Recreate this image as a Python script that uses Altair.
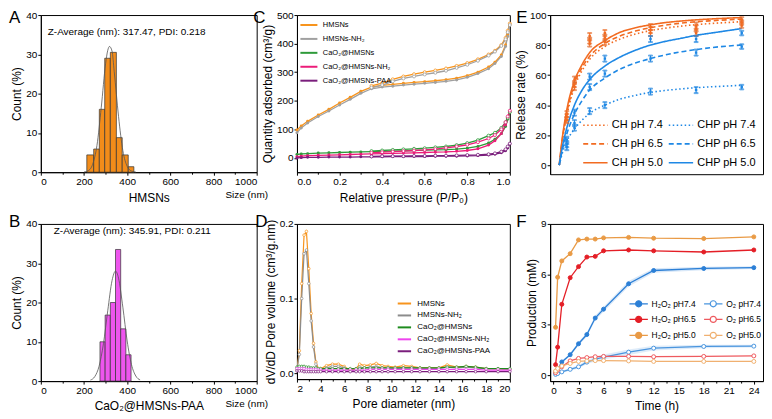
import altair as alt
import pandas as pd

FONT = "Liberation Sans"

# ---------------- Panel A : DLS of HMSNs ----------------
a_bin_lo = [213, 245, 271, 296, 322, 350, 377, 405]
a_bin_hi = [245, 271, 296, 322, 350, 377, 405, 431]
a_count = [4.4, 5.9, 16.0, 29.0, 30.5, 8.8, 4.4, 1.4]
a_fit_x = [200, 220, 240, 260, 280, 300, 310, 318, 330, 340, 360, 380, 400, 420, 440]
a_fit_y = [0.05, 0.4, 2.0, 6.8, 16.5, 27.6, 31.0, 32.0, 30.8, 25.6, 14.2, 5.5, 1.5, 0.3, 0.05]

# ---------------- Panel B : DLS of CaO2@HMSNs-PAA ----------------
b_bin_lo = [274, 298, 322, 346, 370, 394]
b_bin_hi = [298, 322, 346, 370, 394, 418]
b_count = [10.0, 16.8, 20.0, 33.5, 13.3, 6.7]
b_fit_x = [230, 250, 270, 290, 310, 330, 346, 360, 380, 400, 420, 440, 460]
b_fit_y = [0.27, 1.15, 3.8, 9.5, 17.9, 25.6, 28.0, 26.2, 18.8, 10.2, 4.2, 1.3, 0.3]

# ---------------- Panel C : N2 isotherms ----------------
c_series = ["HMSNs", "HMSNs-NH₂", "CaO₂@HMSNs", "CaO₂@HMSNs-NH₂", "CaO₂@HMSNs-PAA"]
c_colors = ["#F7941D", "#A0A0A0", "#2E9B3A", "#EC1C79", "#7A1E7C"]
c_p_ads = [0.0, 0.02, 0.05, 0.1, 0.15, 0.2, 0.25, 0.3, 0.35, 0.4, 0.45, 0.5, 0.55,
           0.6, 0.65, 0.7, 0.75, 0.8, 0.85, 0.9, 0.93, 0.96, 0.98, 0.99, 1.0]
c_p_des = [1.0, 0.99, 0.98, 0.96, 0.93, 0.9, 0.85, 0.8, 0.75, 0.7, 0.65, 0.6, 0.55,
           0.5, 0.45, 0.4, 0.35]
c_hmsns_ads = [98, 112, 128, 150, 170, 192, 212, 233, 248, 254, 257, 261, 264, 267, 270,
               274, 279, 288, 300, 318, 335, 360, 395, 430, 470]
c_hmsns_des = [470, 445, 420, 395, 375, 362, 345, 332, 322, 313, 306, 300, 293, 285, 275, 262, 252]
c_nh2_ads = [88, 105, 122, 145, 164, 185, 205, 226, 242, 248, 251, 255, 258, 261, 264,
             268, 273, 282, 295, 312, 330, 355, 390, 425, 465]
c_nh2_des = [465, 440, 415, 392, 372, 358, 340, 326, 315, 305, 298, 292, 285, 278, 268, 255, 246]
c_cao2_ads = [12, 14, 15, 17, 18, 19, 20, 21, 22, 23, 24, 25, 26, 27, 28, 29, 31, 34, 40,
              52, 65, 85, 110, 135, 160]
c_cao2_des = [160, 140, 125, 105, 88, 78, 62, 52, 45, 40, 37, 34, 32, 30, 28, 26, 24]
c_cnh2_ads = [4, 6, 8, 9, 10, 11, 12, 13, 14, 15, 16, 17, 18, 19, 20, 21, 23, 26, 32, 45,
              60, 85, 115, 140, 165]
c_cnh2_des = [165, 145, 125, 100, 80, 68, 55, 46, 40, 35, 31, 28, 26, 24, 22, 20, 18]
c_paa_ads = [0, 1, 2, 2, 3, 3, 3, 4, 4, 4, 5, 5, 5, 5, 6, 6, 6, 7, 8, 10, 13, 18, 25, 35, 50]
c_paa_des = [50, 40, 30, 22, 16, 13, 11, 10, 9, 8, 8, 7, 7, 6, 6, 6, 5]

# ---------------- Panel D : pore size distribution ----------------
d_series = c_series
d_colors = ["#F7941D", "#8C8C8C", "#1E8C1E", "#EE44EE", "#7A1E7C"]
d_x = [2.0, 2.2, 2.4, 2.6, 2.8, 3.0, 3.2, 3.4, 3.6, 3.8, 4.0, 4.5, 5.0, 5.5, 6.0, 6.5,
       7.0, 7.3, 7.7, 8.2, 8.7, 9.2, 9.7, 10.3, 11.0, 11.7, 12.4, 13.2, 14.0, 14.7,
       15.5, 16.3, 17.1, 18.0, 19.0, 20.0]
d_hmsns = [0.005, 0.03, 0.12, 0.185, 0.19, 0.14, 0.08, 0.04, 0.015, 0.006, 0.006, 0.01,
           0.012, 0.012, 0.009, 0.004, 0.006, 0.012, 0.01, 0.011, 0.013, 0.01, 0.009,
           0.008, 0.01, 0.009, 0.007, 0.007, 0.007, 0.011, 0.008, 0.009, 0.008, 0.006,
           0.006, 0.005]
d_nh2 = [0.005, 0.025, 0.1, 0.16, 0.165, 0.12, 0.07, 0.035, 0.012, 0.004, 0.004, 0.007,
         0.009, 0.009, 0.007, 0.003, 0.004, 0.008, 0.007, 0.008, 0.009, 0.007, 0.007,
         0.006, 0.007, 0.007, 0.006, 0.006, 0.006, 0.008, 0.007, 0.008, 0.007, 0.006,
         0.006, 0.005]
d_cao2 = [0.008, 0.009, 0.009, 0.009, 0.008, 0.008, 0.007, 0.007, 0.007, 0.006, 0.006,
          0.006, 0.006, 0.006, 0.006, 0.006, 0.006, 0.006, 0.007, 0.007, 0.007, 0.007,
          0.007, 0.007, 0.007, 0.007, 0.007, 0.007, 0.007, 0.008, 0.008, 0.009, 0.008,
          0.006, 0.006, 0.006]
d_cnh2 = [0.006, 0.006, 0.006, 0.006, 0.005, 0.005, 0.005, 0.005, 0.005, 0.004, 0.004,
          0.004, 0.004, 0.004, 0.004, 0.004, 0.004, 0.004, 0.004, 0.005, 0.005, 0.005,
          0.005, 0.005, 0.005, 0.005, 0.005, 0.005, 0.005, 0.005, 0.005, 0.005, 0.005,
          0.004, 0.004, 0.004]
d_paa = [0.003, 0.003, 0.003, 0.002, 0.002, 0.002, 0.002, 0.002, 0.002, 0.002, 0.002,
         0.002, 0.002, 0.002, 0.002, 0.002, 0.002, 0.002, 0.002, 0.002, 0.002, 0.002,
         0.002, 0.002, 0.002, 0.002, 0.002, 0.002, 0.002, 0.002, 0.002, 0.002, 0.002,
         0.002, 0.002, 0.002]

# ---------------- Panel E : release kinetics ----------------
# order is column-major for the 2-column legend
e_series = ["CH pH 7.4", "CH pH 6.5", "CH pH 5.0", "CHP pH 7.4", "CHP pH 6.5", "CHP pH 5.0"]
e_colors = ["#F26B21", "#F26B21", "#F26B21", "#1E88E5", "#1E88E5", "#1E88E5"]
e_dashes = [[1.5, 2.5], [5, 3], [1, 0], [1.5, 2.5], [5, 3], [1, 0]]
e_t_fit = [0, 2, 5, 10, 15, 20, 30, 40, 50, 60, 70, 80, 90, 100, 110, 120]
e_ch74_fit = [0, 16, 33, 52, 63, 70.5, 79, 84, 87.3, 89.6, 91.3, 92.6, 93.6, 94.4, 95, 95.6]
e_ch65_fit = [0, 17, 35, 54, 65, 72.5, 81, 86, 89.3, 91.6, 93.3, 94.6, 95.5, 96.2, 96.8, 97.3]
e_ch50_fit = [0, 18, 37, 56, 67, 75, 83, 88.5, 91.5, 93.5, 95, 96, 96.8, 97.4, 97.9, 98.3]
e_chp74_fit = [0, 8, 16, 24, 30, 34.5, 40, 44, 46.5, 48.5, 49.8, 50.8, 51.6, 52.2, 52.7, 53.2]
e_chp65_fit = [0, 10, 21, 34, 43, 50, 58, 64, 68, 71, 73.5, 75.5, 77, 78.3, 79.3, 80]
e_chp50_fit = [0, 12, 25, 40, 50, 57, 66, 72, 76.5, 80, 82.5, 84.5, 86.5, 88, 89.5, 91]
e_t_pts = [5, 10, 20, 30, 60, 90, 120]
e_ch74_pts = [30, 52, 81, 82, 88, 88, 93]
e_ch65_pts = [32, 54, 83, 85, 90, 91, 95]
e_ch50_pts = [34, 57, 86, 88, 92, 93, 97]
e_chp74_pts = [12, 25, 36, 40, 49, 50, 52]
e_chp65_pts = [14, 28, 52, 61, 71, 75, 79]
e_chp50_pts = [17, 35, 59, 71, 84, 84, 88]
e_err = [2, 2, 2, 2, 2, 2, 1.5]

# ---------------- Panel F : H2O2 / O2 production ----------------
f_series = ["H₂O₂ pH7.4", "H₂O₂ pH6.5", "H₂O₂ pH5.0", "O₂ pH7.4", "O₂ pH6.5", "O₂ pH5.0"]
f_line_colors = ["#2B7FD6", "#E41E26", "#E99A45", "#4A95DE", "#EE5A5F", "#F0B070"]
f_fills = ["#2B7FD6", "#E41E26", "#E99A45", "#FFFFFF", "#FFFFFF", "#FFFFFF"]
f_t = [0.25, 0.5, 1, 2, 3, 4, 5, 6, 9, 12, 18, 24]
f_h2o2_74 = [0.15, 0.35, 0.79, 1.22, 1.87, 2.42, 3.4, 3.93, 5.44, 6.23, 6.35, 6.4]
f_h2o2_65 = [0.63, 1.67, 4.22, 5.8, 6.46, 7.03, 7.07, 7.4, 7.45, 7.4, 7.33, 7.45]
f_h2o2_50 = [2.85, 5.83, 6.8, 7.23, 8.05, 8.1, 8.1, 8.17, 8.2, 8.15, 8.13, 8.23]
f_o2_74 = [0.05, 0.1, 0.2, 0.35, 0.5, 0.78, 0.95, 1.08, 1.37, 1.61, 1.71, 1.73]
f_o2_65 = [0.15, 0.3, 0.5, 0.85, 1.0, 1.05, 1.1, 1.12, 1.12, 1.1, 1.12, 1.15]
f_o2_50 = [0.25, 0.4, 0.55, 0.7, 0.82, 0.85, 0.87, 0.87, 0.85, 0.82, 0.82, 0.82]
f_band = [0.05, 0.05, 0.06, 0.08, 0.1, 0.12, 0.14, 0.15, 0.16, 0.14, 0.1, 0.08]


# ================= helpers =================
def sc(domain):
    return alt.Scale(domain=domain, nice=False, zero=False)


def xax(title, values, fmt="d", **kw):
    args = dict(title=title, values=values, orient="bottom", grid=False, titlePadding=6,
                tickCount=50, format=fmt)
    args.update(kw)
    return alt.Axis(**args)


def yax(title, values, fmt="d", **kw):
    args = dict(title=title, values=values, orient="left", grid=False, titlePadding=2,
                tickCount=50, format=fmt)
    args.update(kw)
    return alt.Axis(**args)


def minor_x(vals, domain):
    return alt.Chart(pd.DataFrame({"mx": vals})).mark_point(opacity=0).encode(
        x=alt.X("mx:Q", scale=sc(domain),
                axis=alt.Axis(values=vals, labels=False, domain=False, tickSize=2,
                              title=None, orient="bottom", grid=False, tickCount=50)))


def text_at(txt, x, y, size=10, align="left", anchor="alphabetic"):
    return alt.Chart(pd.DataFrame({"t": [txt]})).mark_text(
        font=FONT, fontSize=size, align=align, baseline=anchor, color="black"
    ).encode(text="t:N", x=alt.value(x), y=alt.value(y))


def leg(**kw):
    base = dict(title=None, orient="none", labelFont=FONT, labelColor="#000", rowPadding=0)
    base.update(kw)
    return alt.Legend(**base)


W_A, W_C, W_E = 217, 214, 214
LET = 17
TOP_Y = -4.5   # top of the panel letters in the upper row

# ================= Panel A / B =================
def dls_panel(lo, hi, cnt, fx, fy, color, xtitle, letter, letter_y, letter_base,
              zlabel, zx, zy):
    bars = pd.DataFrame({"lo": lo, "hi": hi, "cnt": cnt})
    fit = pd.DataFrame({"x": fx, "y": fy})
    dom = [0, 1000]
    bar = alt.Chart(bars).mark_rect(fill=color, stroke="#333333", strokeWidth=0.7).encode(
        x=alt.X("lo:Q", scale=sc(dom),
                axis=xax(xtitle, [0, 200, 400, 600, 800, 1000])),
        x2="hi:Q",
        y=alt.Y("cnt:Q", scale=sc([0, 40]), axis=yax("Count (%)", [0, 10, 20, 30, 40])),
        y2=alt.datum(0),
    )
    curve = alt.Chart(fit).mark_line(color="#555555", strokeWidth=0.8,
                                     interpolate="monotone").encode(
        x=alt.X("x:Q", scale=sc(dom), axis=None), y=alt.Y("y:Q", scale=sc([0, 40])))
    mnr = minor_x([100, 300, 500, 700, 900], dom)
    return alt.layer(
        bar, curve, mnr,
        text_at(zlabel, zx, zy, size=10),
        text_at("Size (nm)", 207, 184, size=10, align="center"),
        text_at(letter, -32, letter_y, size=LET, anchor=letter_base),
    ).resolve_axis(x="independent").properties(width=W_A, height=158)


panelA = dls_panel(a_bin_lo, a_bin_hi, a_count, a_fit_x, a_fit_y, "#F28C1A", "HMSNs",
                   "A", TOP_Y, "top", "Z-Average (nm): 317.47, PDI: 0.218", 7, 20)
panelB = dls_panel(b_bin_lo, b_bin_hi, b_count, b_fit_x, b_fit_y, "#EE55EE",
                   "CaO₂@HMSNs-PAA", "B", 3, "alphabetic",
                   "Z-Average (nm): 345.91, PDI: 0.211", 13, 10)

# ================= Panel C =================
c_ads_lists = [c_hmsns_ads, c_nh2_ads, c_cao2_ads, c_cnh2_ads, c_paa_ads]
c_des_lists = [c_hmsns_des, c_nh2_des, c_cao2_des, c_cnh2_des, c_paa_des]
rows = []
for s, ads, des in zip(c_series, c_ads_lists, c_des_lists):
    for i, (p, q) in enumerate(zip(c_p_ads, ads)):
        rows.append({"series": s, "branch": "ads", "o": i, "p": p, "q": q})
    for i, (p, q) in enumerate(zip(c_p_des, des)):
        rows.append({"series": s, "branch": "des", "o": i, "p": p, "q": q})
c_df = pd.DataFrame(rows)
c_xdom, c_ydom = [0, 1], [-50, 500]
c_line = alt.Chart(c_df).mark_line(strokeWidth=1.3).encode(
    x=alt.X("p:Q", scale=sc(c_xdom),
            axis=xax("Relative pressure (P/P₀)", [0, 0.2, 0.4, 0.6, 0.8, 1.0], ".1f")),
    y=alt.Y("q:Q", scale=sc(c_ydom),
            axis=yax("Quantity adsorbed (cm³/g)", [0, 100, 200, 300, 400, 500])),
    color=alt.Color("series:N", scale=alt.Scale(domain=c_series, range=c_colors),
                    legend=leg(legendX=2, legendY=0, symbolType="stroke", symbolSize=292,
                               symbolStrokeWidth=2, labelFontSize=7.5, labelOffset=4)),
    detail="branch:N", order="o:Q")
c_pts_ads = alt.Chart(c_df[c_df.branch == "ads"]).mark_point(
    filled=True, size=9, opacity=1).encode(
    x=alt.X("p:Q", scale=sc(c_xdom), axis=None),
    y=alt.Y("q:Q", scale=sc(c_ydom)),
    fill=alt.Fill("series:N", scale=alt.Scale(domain=c_series, range=c_colors), legend=None))
c_pts_des = alt.Chart(c_df[c_df.branch == "des"]).mark_point(
    filled=False, fill="white", size=9, strokeWidth=0.8, opacity=1).encode(
    x=alt.X("p:Q", scale=sc(c_xdom), axis=None),
    y=alt.Y("q:Q", scale=sc(c_ydom)),
    stroke=alt.Stroke("series:N", scale=alt.Scale(domain=c_series, range=c_colors),
                      legend=None))
panelC = alt.layer(
    c_line, c_pts_ads, c_pts_des,
    minor_x([0.1, 0.3, 0.5, 0.7, 0.9], c_xdom),
    text_at("C", -44, TOP_Y, size=LET, anchor="top"),
).resolve_axis(x="independent").properties(width=W_C, height=158)

# ================= Panel D =================
d_lists = [d_hmsns, d_nh2, d_cao2, d_cnh2, d_paa]
rows = []
for s, vals in zip(d_series, d_lists):
    for x, v in zip(d_x, vals):
        rows.append({"series": s, "d": x, "v": v})
d_df = pd.DataFrame(rows)
d_xdom, d_ydom = [2, 20], [-0.008, 0.2]
d_line = alt.Chart(d_df).mark_line(strokeWidth=1.2).encode(
    x=alt.X("d:Q", scale=sc(d_xdom),
            axis=xax("Pore diameter (nm)", list(range(2, 21, 2)))),
    y=alt.Y("v:Q", scale=sc(d_ydom),
            axis=yax("dV/dD Pore volume (cm³/g.nm)", [0, 0.1, 0.2], ".1f")),
    color=alt.Color("series:N", scale=alt.Scale(domain=d_series, range=d_colors),
                    legend=leg(legendX=100, legendY=72, symbolType="stroke", symbolSize=180,
                               symbolStrokeWidth=2, labelFontSize=8, labelOffset=5)))
d_pts = alt.Chart(d_df).mark_point(filled=False, fill="white", size=7, strokeWidth=0.7,
                                   opacity=1).encode(
    x=alt.X("d:Q", scale=sc(d_xdom), axis=None),
    y=alt.Y("v:Q", scale=sc(d_ydom)),
    stroke=alt.Stroke("series:N", scale=alt.Scale(domain=d_series, range=d_colors),
                      legend=None))
panelD = alt.layer(
    d_line, d_pts,
    minor_x([3, 5, 7, 9, 11, 13, 15, 17, 19], d_xdom),
    text_at("D", -42, 3, size=LET),
).resolve_axis(x="independent").properties(width=W_C, height=156)

# ================= Panel E =================
e_fit_lists = [e_ch74_fit, e_ch65_fit, e_ch50_fit, e_chp74_fit, e_chp65_fit, e_chp50_fit]
e_pt_lists = [e_ch74_pts, e_ch65_pts, e_ch50_pts, e_chp74_pts, e_chp65_pts, e_chp50_pts]
rows = []
for s, vals in zip(e_series, e_fit_lists):
    for t, v in zip(e_t_fit, vals):
        rows.append({"series": s, "t": t, "v": v})
e_fit_df = pd.DataFrame(rows)
rows = []
for s, vals in zip(e_series, e_pt_lists):
    grp = s.split(" ")[0]
    for t, v, e in zip(e_t_pts, vals, e_err):
        rows.append({"grp": grp, "t": t, "v": v, "lo": v - e, "hi": v + e})
e_pt_df = pd.DataFrame(rows)
e_xdom, e_ydom = [-6, 134], [-6, 100]
e_leg = dict(legendX=32, legendY=97, columns=2, columnPadding=2,
             symbolType="stroke", symbolSize=600, symbolStrokeWidth=1.6,
             labelFontSize=11, labelOffset=3)
e_line = alt.Chart(e_fit_df).mark_line(strokeWidth=1.6, interpolate="monotone").encode(
    x=alt.X("t:Q", scale=sc(e_xdom), axis=xax("Time (min)", [0, 20, 40, 60, 80, 100, 120])),
    y=alt.Y("v:Q", scale=sc(e_ydom), axis=yax("Release rate (%)", [0, 20, 40, 60, 80, 100])),
    color=alt.Color("series:N", scale=alt.Scale(domain=e_series, range=e_colors),
                    legend=leg(**e_leg)),
    strokeDash=alt.StrokeDash("series:N", scale=alt.Scale(domain=e_series, range=e_dashes),
                              legend=leg(**e_leg)))
e_stroke = alt.Stroke("grp:N", scale=alt.Scale(domain=["CH", "CHP"], range=["#F26B21", "#1E88E5"]),
                      legend=None)
e_bar = alt.Chart(e_pt_df).mark_rule(strokeWidth=1).encode(
    x=alt.X("t:Q", scale=sc(e_xdom), axis=None), y=alt.Y("lo:Q", scale=sc(e_ydom)),
    y2="hi:Q", stroke=e_stroke)
e_cap_lo = alt.Chart(e_pt_df).mark_tick(orient="horizontal", size=4, thickness=1).encode(
    x=alt.X("t:Q", scale=sc(e_xdom), axis=None), y=alt.Y("lo:Q", scale=sc(e_ydom)),
    stroke=e_stroke)
e_cap_hi = alt.Chart(e_pt_df).mark_tick(orient="horizontal", size=4, thickness=1).encode(
    x=alt.X("t:Q", scale=sc(e_xdom), axis=None), y=alt.Y("hi:Q", scale=sc(e_ydom)),
    stroke=e_stroke)
e_pts = alt.Chart(e_pt_df).mark_point(shape="square", filled=True, size=6, opacity=1).encode(
    x=alt.X("t:Q", scale=sc(e_xdom), axis=None), y=alt.Y("v:Q", scale=sc(e_ydom)),
    fill=alt.Fill("grp:N", scale=alt.Scale(domain=["CH", "CHP"], range=["#F26B21", "#1E88E5"]),
                  legend=None))
panelE = alt.layer(
    e_line, e_bar, e_cap_lo, e_cap_hi, e_pts,
    text_at("E", -34, TOP_Y, size=LET, anchor="top"),
).properties(width=W_E, height=160)

# ================= Panel F =================
f_lists = [f_h2o2_74, f_h2o2_65, f_h2o2_50, f_o2_74, f_o2_65, f_o2_50]
rows = []
for s, vals in zip(f_series, f_lists):
    for t, v in zip(f_t, vals):
        rows.append({"series": s, "t": t, "v": v})
f_df = pd.DataFrame(rows)
f_band_df = pd.DataFrame({"t": f_t,
                          "lo": [v - b for v, b in zip(f_h2o2_74, f_band)],
                          "hi": [v + b for v, b in zip(f_h2o2_74, f_band)],
                          "lo2": [v - b for v, b in zip(f_o2_74, f_band)],
                          "hi2": [v + b for v, b in zip(f_o2_74, f_band)]})
f_xdom, f_ydom = [-0.4, 25.1], [-0.35, 9]
sym = "M-1,0L-0.33,0M0.33,0L1,0M0.33,0A0.33,0.33,0,1,1,-0.33,0A0.33,0.33,0,1,1,0.33,0"
f_band1 = alt.Chart(f_band_df).mark_area(color="#2B7FD6", opacity=0.18).encode(
    x=alt.X("t:Q", scale=sc(f_xdom), axis=xax("Time (h)", list(range(0, 25, 3)))),
    y=alt.Y("lo:Q", scale=sc(f_ydom), axis=yax("Production (mM)", [0, 3, 6, 9])),
    y2="hi:Q")
f_band2 = alt.Chart(f_band_df).mark_area(color="#2B7FD6", opacity=0.15).encode(
    x=alt.X("t:Q", scale=sc(f_xdom), axis=None),
    y=alt.Y("lo2:Q", scale=sc(f_ydom)), y2="hi2:Q")
f_line = alt.Chart(f_df).mark_line(strokeWidth=1.3).encode(
    x=alt.X("t:Q", scale=sc(f_xdom), axis=None),
    y=alt.Y("v:Q", scale=sc(f_ydom)),
    color=alt.Color("series:N", scale=alt.Scale(domain=f_series, range=f_line_colors),
                    legend=leg(legendX=79, legendY=70, columns=2, columnPadding=5,
                               symbolType=sym, symbolSize=342,
                               symbolStrokeWidth=1.2, labelFontSize=8.5, labelOffset=3)))
f_pts = alt.Chart(f_df).mark_point(filled=True, size=16, strokeWidth=1, opacity=1).encode(
    x=alt.X("t:Q", scale=sc(f_xdom), axis=None),
    y=alt.Y("v:Q", scale=sc(f_ydom)),
    stroke=alt.Stroke("series:N", scale=alt.Scale(domain=f_series, range=f_line_colors),
                      legend=None),
    fill=alt.Fill("series:N", scale=alt.Scale(domain=f_series, range=f_fills), legend=None))
panelF = alt.layer(
    f_band1, f_band2, f_line, f_pts,
    minor_x([1.5, 4.5, 7.5, 10.5, 13.5, 16.5, 19.5, 22.5], f_xdom),
    text_at("F", -34, 3, size=LET),
).resolve_axis(x="independent").properties(width=W_E, height=158)

# ================= layout =================
chart = alt.concat(
    panelA, panelC, panelE, panelB, panelD, panelF,
    columns=3, spacing={"row": 50, "column": 40.5}, bounds="flush", align="each",
).resolve_scale(
    color="independent", stroke="independent", fill="independent", strokeDash="independent"
).properties(
    padding=0
).configure_axis(
    labelFont=FONT, titleFont=FONT, labelFontSize=10, titleFontSize=12,
    titleFontWeight="normal", labelColor="#000", titleColor="#000",
    domainColor="#000", tickColor="#000", tickSize=3, labelPadding=1,
    labelOverlap=False,
).configure_legend(
    labelFont=FONT, labelColor="#000"
).configure_view(stroke="#000", strokeWidth=1)

chart.save("out.html", embed_options={"renderer": "svg", "actions": False})
